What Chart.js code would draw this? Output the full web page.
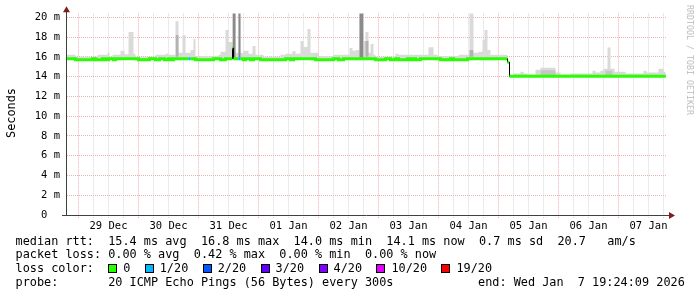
<!DOCTYPE html>
<html>
<head>
<meta charset="utf-8">
<script src="https://cdn.jsdelivr.net/npm/chart.js@4.4.1/dist/chart.umd.min.js"></script>
<style>
  html, body { margin: 0; padding: 0; background: #fff; }
  #wrap { position: relative; width: 697px; height: 297px; overflow: hidden; }
  #wrap canvas { position: absolute; left: 0; top: 0; }
  .txt { position: absolute; font-family: 'DejaVu Sans Mono', monospace; font-size: 11.85px; line-height: 14px; white-space: pre; color: #000; }
  .box { display: inline-block; width: 7px; height: 7px; border: 1px solid #000; vertical-align: top; margin-top: 2.6px; margin-right: 6px; }
  .item { margin-right: 14.4px; }
  #ylab { left: -39px; top: 106px; width: 100px; text-align: center; transform: rotate(-90deg); }
  #mark { left: 635px; top: 55px; width: 110px; text-align: center; font-size: 8.3px; line-height: 10px; color: #bdbdbd; transform: rotate(90deg); }
</style>
</head>
<body>
<div id="wrap">
  <canvas id="myChart" width="697" height="297"></canvas>
  <div class="txt" id="ylab">Seconds</div>
  <div class="txt" id="mark">RRDTOOL / TOBI OETIKER</div>
  <div class="txt" style="left:15.5px; top:233.9px">median rtt:  15.4 ms avg  16.8 ms max  14.0 ms min  14.1 ms now  0.7 ms sd  20.7   am/s</div>
  <div class="txt" style="left:15.5px; top:247.4px">packet loss: 0.00 % avg  0.42 % max  0.00 % min  0.00 % now</div>
  <div class="txt" id="lossline" style="left:15.5px; top:261.4px">loss color:  </div>
  <div class="txt" style="left:15.5px; top:274.9px">probe:       20 ICMP Echo Pings (56 Bytes) every 300s</div>
  <div class="txt" style="left:478px; top:274.9px">end: Wed Jan  7 19:24:09 2026</div>
</div>
<script>
// hours are counted from 28 Dec 00:00, the graph covers 28 Dec 19:24 .. 07 Jan 19:24
let startHour = 19.4;
let endHour = 259.4;

let dayLabels = ['29 Dec', '30 Dec', '31 Dec', '01 Jan', '02 Jan', '03 Jan', '04 Jan', '05 Jan', '06 Jan', '07 Jan'];
let yTickValues = [0, 1, 2, 3, 4, 5, 6, 7, 8, 9, 10, 11, 12, 13, 14, 15, 16, 17, 18, 19, 20];
let yTickLabels = ['0  ', '', '2 m', '', '4 m', '', '6 m', '', '8 m', '', '10 m', '', '12 m', '', '14 m', '', '16 m', '', '18 m', '', '20 m'];

let lossLabels = ['0', '1/20', '2/20', '3/20', '4/20', '10/20', '19/20'];
let lossColors = ['#26ff00', '#00b8ff', '#0059ff', '#5e00ff', '#7e00ff', '#dd00ff', '#ff0000'];

// median rtt in ms, each value holds from its hour until the next one
let medianHours = [19.4, 22.8, 29.6, 30.8, 33.6, 34.8, 36.0, 38.0, 38.8, 48.0, 52.4, 54.8, 56.4, 58.4, 60.0, 60.8, 62.0, 68.0, 68.8, 70.8,
  78.0, 80.8, 82.8, 85.6, 86.0, 88.0, 88.8, 90.0, 90.8, 92.8, 94.0, 96.8, 106.8, 108.8, 110.0, 118.8, 126.0, 128.0, 130.0, 142.8,
  146.8, 148.8, 150.8, 152.0, 155.6, 156.8, 158.0, 158.8, 160.8, 168.8, 172.8, 174.0, 179.6, 195.6, 196.4];
let medianValues = [15.8, 15.7, 15.8, 15.7, 15.8, 15.7, 15.8, 15.7, 15.8, 15.7, 15.8, 15.7, 15.8, 15.7, 15.8, 15.7, 15.8, 15.8, 15.8, 15.7,
  15.8, 15.7, 15.8, 16.9, 15.8, 15.8, 15.8, 15.7, 15.8, 15.7, 15.8, 15.7, 15.8, 15.7, 15.8, 15.7, 15.8, 15.7, 15.8, 15.7,
  15.8, 15.7, 15.8, 15.7, 15.8, 15.7, 15.8, 15.7, 15.8, 15.7, 15.8, 15.7, 15.8, 15.45, 14.03];
let medianEnd = 258.9;
let lossHours = [68.0, 88.0];   // 1/20 loss

// smoke (upper ping values), before the step
let smokeHours1 = [19.4, 22.8, 31.6, 35.6, 36.4, 37.6, 40.8, 42.4, 44.0, 46.0, 46.8, 54.8, 58.8, 60.0, 62.8, 64.0, 65.6, 66.8, 68.8, 70.0,
  70.8, 80.0, 80.8, 82.8, 84.0, 85.6, 86.8, 88.0, 88.8, 90.0, 92.0, 93.6, 94.8, 98.0, 104.8, 106.8, 109.6, 110.8, 112.8, 114.0,
  115.6, 116.8, 120.0, 126.0, 132.4, 133.6, 134.8, 136.4, 138.0, 138.8, 140.0, 140.8, 142.0, 142.8, 150.8, 152.0, 164.0, 166.0, 167.6, 176.0,
  180.4, 182.0, 184.0, 185.6, 186.4, 187.6, 188.8];
let smokeTop1 = [16.2, 16.0, 16.2, 16.4, 16.0, 16.2, 16.6, 16.25, 18.5, 16.3, 16.0, 16.2, 16.3, 16.2, 19.6, 16.4, 18.2, 16.4, 16.7, 17.8,
  16.05, 16.2, 16.5, 18.7, 17.5, 20.4, 16.4, 20.4, 16.4, 16.6, 16.3, 17.1, 16.2, 16.0, 16.2, 16.3, 16.55, 16.3, 17.6, 17.0,
  18.8, 16.4, 16.05, 16.2, 16.9, 16.6, 16.7, 20.4, 17.6, 18.5, 16.4, 17.3, 16.2, 16.0, 16.3, 16.2, 16.97, 16.2, 16.05, 16.2,
  20.4, 16.4, 16.5, 17.7, 18.7, 16.7, 16.2];
let smokeEnd1 = 195.6;

// smoke after the step
let smokeHours2 = [196.4, 198.0, 200.8, 202.0, 203.6, 206.8, 208.8, 214.8, 216.8, 220.8, 229.6, 230.8, 232.8, 234.0, 235.6, 236.8, 238.4, 242.8, 250.0, 251.2, 256.0, 258.0];
let smokeTop2 = [14.15, 14.3, 14.5, 14.3, 14.2, 14.7, 14.9, 14.4, 14.2, 14.3, 14.6, 14.4, 14.6, 14.8, 16.95, 14.8, 14.5, 14.3, 14.6, 14.4, 14.8, 14.5];
let smokeEnd2 = 258.9;

// denser smoke: [from hour, to hour, top]
let darkBands = [[85.6, 86.8, 20.4], [88.0, 88.8, 20.4], [136.4, 138.0, 20.4]];
let midBands1 = [[62.8, 64.0, 18.2], [138.8, 140.0, 17.6], [180.4, 182.0, 16.7]];
let midBands2 = [[208.8, 214.8, 14.65], [234.8, 237.6, 14.6]];

function stepPoints(hours, values, end) {
  let pts = [];
  hours.forEach((h, i) => {
    let next = i + 1 < hours.length ? hours[i + 1] : end;
    pts.push({x: h, y: values[i]}, {x: next, y: values[i]});
  });
  return pts;
}

function bandPoints(bands, base) {
  let pts = [];
  bands.forEach(b => {
    pts.push({x: b[0], y: base}, {x: b[0], y: b[2]}, {x: b[1], y: b[2]}, {x: b[1], y: base});
  });
  return pts;
}

let xGridHours = [];
for (let h = 24; h < endHour; h += 6) xGridHours.push(h);

// legend boxes
let lossLine = document.getElementById('lossline');
lossLabels.forEach((lab, i) => {
  let s = document.createElement('span');
  s.className = 'item';
  s.innerHTML = '<span class="box" style="background:' + lossColors[i] + '"></span>' + lab;
  lossLine.appendChild(s);
});

let majorGrid = '#ecb0b0';
let minorGrid = '#d6d6d6';

let axisArrows = {
  id: 'axisArrows',
  afterDraw(chart) {
    let ctx = chart.ctx, a = chart.chartArea;
    let x0 = a.left - 0.5, y0 = a.bottom + 0.5;
    ctx.save();
    ctx.strokeStyle = '#404040';
    ctx.lineWidth = 1;
    ctx.beginPath();
    ctx.moveTo(x0, y0 + 0.5);
    ctx.lineTo(x0, a.top - 3);
    ctx.moveTo(a.left - 5, y0);
    ctx.lineTo(a.right + 4, y0);
    ctx.stroke();
    ctx.fillStyle = '#801c1c';
    ctx.beginPath();
    ctx.moveTo(x0 - 3.5, a.top - 1);
    ctx.lineTo(x0 + 3.5, a.top - 1);
    ctx.lineTo(x0, a.top - 7);
    ctx.closePath();
    ctx.fill();
    ctx.beginPath();
    ctx.moveTo(a.right + 2, y0 - 3.5);
    ctx.lineTo(a.right + 2, y0 + 3.5);
    ctx.lineTo(a.right + 8, y0);
    ctx.closePath();
    ctx.fill();
    ctx.restore();
  }
};

let ctx = document.getElementById('myChart').getContext('2d');

let myChart = new Chart(ctx, {
  type: 'line',
  data: {
    datasets: [{
      label: 'median',
      data: stepPoints(medianHours, medianValues, medianEnd),
      borderColor: lossColors[0],
      borderWidth: 3,
      borderCapStyle: 'butt',
      pointRadius: 0,
      fill: false,
      segment: {
        borderColor: c => {
          if (c.p0.parsed.x === c.p1.parsed.x) {
            return Math.abs(c.p0.parsed.y - c.p1.parsed.y) > 0.3 ? '#000' : lossColors[0];
          }
          return lossHours.includes(c.p0.parsed.x) ? lossColors[1] : lossColors[0];
        },
        borderWidth: c => (c.p0.parsed.x === c.p1.parsed.x && Math.abs(c.p0.parsed.y - c.p1.parsed.y) > 0.3) ? 1 : 3
      }
    }, {
      label: 'dark smoke',
      data: bandPoints(darkBands, 15.9),
      borderWidth: 0,
      pointRadius: 0,
      backgroundColor: '#8a8a8a',
      fill: {value: 15.9}
    }, {
      label: 'mid smoke 1',
      data: bandPoints(midBands1, 16.0),
      borderWidth: 0,
      pointRadius: 0,
      backgroundColor: '#b2b2b2',
      fill: {value: 16.0}
    }, {
      label: 'mid smoke 2',
      data: bandPoints(midBands2, 14.1),
      borderWidth: 0,
      pointRadius: 0,
      backgroundColor: '#c6c6c6',
      fill: {value: 14.1}
    }, {
      label: 'smoke 1',
      data: stepPoints(smokeHours1, smokeTop1, smokeEnd1),
      borderWidth: 0,
      pointRadius: 0,
      backgroundColor: '#dadada',
      fill: {value: 15.7}
    }, {
      label: 'smoke 2',
      data: stepPoints(smokeHours2, smokeTop2, smokeEnd2),
      borderWidth: 0,
      pointRadius: 0,
      backgroundColor: '#dadada',
      fill: {value: 14.0}
    }]
  },
  options: {
    responsive: false,
    animation: false,
    devicePixelRatio: 1,
    layout: { padding: { left: 0, right: 30, top: 13, bottom: 0 } },
    plugins: {
      legend: { display: false },
      tooltip: { enabled: false }
    },
    elements: { line: { tension: 0 } },
    scales: {
      x: {
        type: 'linear',
        min: startHour,
        max: endHour,
        afterBuildTicks: s => { s.ticks = xGridHours.map(v => ({value: v})); },
        afterFit: s => { s.height = 82; },
        grid: {
          color: c => (c.tick && c.tick.value % 24 === 0) ? majorGrid : minorGrid,
          tickColor: c => (c.tick && c.tick.value % 24 === 0) ? majorGrid : minorGrid,
          tickBorderDash: [1, 1],
          tickLength: 3,
          lineWidth: 1
        },
        border: { display: false, dash: [1, 1] },
        ticks: {
          autoSkip: false,
          maxRotation: 0,
          padding: 1.5,
          color: '#000',
          font: { family: 'DejaVu Sans Mono', size: 10.5 },
          callback: v => (v % 24 === 12) ? dayLabels[(v - 36) / 24] : ''
        }
      },
      y: {
        type: 'linear',
        min: 0,
        max: 20.4,
        afterBuildTicks: s => { s.ticks = yTickValues.map(v => ({value: v})); },
        afterFit: s => { s.width = 67; },
        grid: {
          color: c => (c.tick && c.tick.value % 2 === 0) ? majorGrid : minorGrid,
          drawTicks: false,
          lineWidth: 1
        },
        border: { display: false, dash: [1, 1] },
        ticks: {
          padding: 7,
          color: '#000',
          font: { family: 'DejaVu Sans Mono', size: 10.5 },
          callback: v => yTickLabels[yTickValues.indexOf(v)]
        }
      }
    }
  },
  plugins: [axisArrows]
});
</script>
</body>
</html>
